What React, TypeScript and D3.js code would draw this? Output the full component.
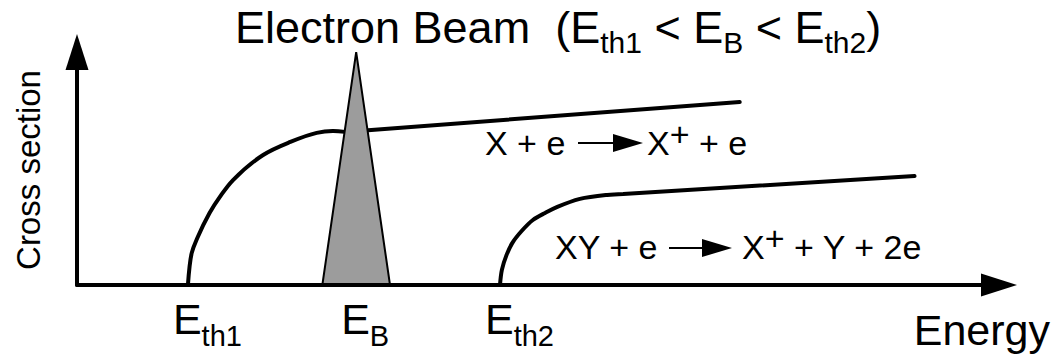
import React from "react";
import * as d3 from "d3";

// Energy axis and cross-section axis, both in arbitrary units (0..100)
const ENERGY_DOMAIN: [number, number] = [0, 100];
const SIGMA_DOMAIN: [number, number] = [0, 100];

// Direct ionization X + e -> X+ + e (threshold Eth1): rising onset, then a straight tail
const directOnset: [number, number][] = [
  [11.8, 0], [12.2, 12.7], [12.8, 18.7], [14.1, 28.7], [15.2, 35.1],
  [16.6, 41.8], [19.8, 51.8], [22.7, 57.0], [25.5, 60.6], [27.2, 61.4],
  [28.5, 61.0],
];
const directTail: [number, number] = [70.5, 72.9];

// Dissociative ionization XY + e -> X+ + Y + 2e (threshold Eth2)
const dissociativeOnset: [number, number][] = [
  [45.0, 0], [45.2, 6.0], [45.7, 12.0], [46.3, 16.7], [47.3, 21.5],
  [48.5, 25.9], [49.8, 28.7], [51.1, 31.1], [53.5, 34.3], [56.4, 35.9],
  [58.1, 36.3],
];
const dissociativeTail: [number, number] = [89.1, 43.4];

// Electron beam energy distribution: centre, half width at base, peak height
const BEAM_CENTER = 29.7;
const BEAM_HALF_WIDTH = 3.6;
const BEAM_PEAK = 92.8;

// Energy markers below the axis
const markers = [
  { main: "E", sub: "th1", value: 11.8 },
  { main: "E", sub: "B", value: 29.7 },
  { main: "E", sub: "th2", value: 45.0 },
];

const W = 1053;
const H = 358;
const FONT = "'Liberation Sans', Arial, Helvetica, sans-serif";

export default function App() {
  const x = d3.scaleLinear().domain(ENERGY_DOMAIN).range([77, 1017]);
  const y = d3.scaleLinear().domain(SIGMA_DOMAIN).range([285, 34]);

  const onsetLine = d3
    .line<[number, number]>()
    .x((d) => x(d[0]))
    .y((d) => y(d[1]))
    .curve(d3.curveCatmullRom.alpha(0.5));

  const curvePath = (onset: [number, number][], tail: [number, number]) =>
    (onsetLine(onset) ?? "") + `L${x(tail[0])},${y(tail[1])}`;

  const x0 = x(ENERGY_DOMAIN[0]);
  const xEnd = x(ENERGY_DOMAIN[1]);
  const y0 = y(SIGMA_DOMAIN[0]);
  const yEnd = y(SIGMA_DOMAIN[1]);

  const headLen = 36;
  const headHalf = 11.5;

  const beamPts: [number, number][] = [
    [BEAM_CENTER - BEAM_HALF_WIDTH, 0],
    [BEAM_CENTER, BEAM_PEAK],
    [BEAM_CENTER + BEAM_HALF_WIDTH, 0],
  ];
  const beamPath =
    "M" + beamPts.map((p) => `${x(p[0])},${y(p[1])}`).join("L") + "Z";

  // small reaction arrow: shaft + filled head
  const reactionArrow = (xs: number, xe: number, yy: number) => (
    <g>
      <line x1={xs} y1={yy} x2={xe - 28} y2={yy} stroke="#000" strokeWidth={2} />
      <path d={`M${xe - 30},${yy - 9}L${xe},${yy}L${xe - 30},${yy + 9}Z`} fill="#000" />
    </g>
  );

  return (
    <svg
      width={W}
      height={H}
      style={{ position: "absolute", left: 0, top: 0, background: "#fff" }}
      fontFamily={FONT}
    >
      <rect width={W} height={H} fill="#fff" />

      {/* title */}
      <text x={235} y={43} fontSize={45} style={{ whiteSpace: "pre" }}>
        {"Electron Beam  (E"}
        <tspan fontSize={30} dy={10}>th1</tspan>
        <tspan dy={-10}>{" < E"}</tspan>
        <tspan fontSize={30} dy={10}>B</tspan>
        <tspan dy={-10}>{" < E"}</tspan>
        <tspan fontSize={30} dy={10}>th2</tspan>
        <tspan dy={-10}>)</tspan>
      </text>

      {/* cross-section curves */}
      <path d={curvePath(directOnset, directTail)} fill="none" stroke="#000" strokeWidth={4} strokeLinecap="round" strokeLinejoin="round" />
      <path d={curvePath(dissociativeOnset, dissociativeTail)} fill="none" stroke="#000" strokeWidth={4} strokeLinecap="round" strokeLinejoin="round" />

      {/* beam distribution */}
      <path d={beamPath} fill="#9c9c9c" stroke="#000" strokeWidth={2} strokeLinejoin="miter" />

      {/* axes */}
      <line x1={x0} y1={y0} x2={xEnd - headLen + 2} y2={y0} stroke="#000" strokeWidth={4} strokeLinecap="round" />
      <path d={`M${xEnd - headLen},${y0 - headHalf}L${xEnd},${y0}L${xEnd - headLen},${y0 + headHalf}Z`} fill="#000" />
      <line x1={x0} y1={y0} x2={x0} y2={yEnd + headLen - 2} stroke="#000" strokeWidth={4} strokeLinecap="round" />
      <path d={`M${x0 - headHalf},${yEnd + headLen}L${x0},${yEnd}L${x0 + headHalf},${yEnd + headLen}Z`} fill="#000" />

      {/* axis titles */}
      <text x={1050} y={345} fontSize={43} textAnchor="end">Energy</text>
      <text
        transform="translate(40,170) rotate(-90)"
        fontSize={33}
        textAnchor="middle"
      >
        Cross section
      </text>

      {/* energy markers */}
      {markers.map((m) => (
        <text key={m.sub} x={x(m.value) - 15} y={334} fontSize={43}>
          {m.main}
          <tspan fontSize={29} dy={12}>{m.sub}</tspan>
        </text>
      ))}

      {/* reaction labels */}
      <text x={485} y={155} fontSize={34} style={{ whiteSpace: "pre" }}>X + e</text>
      {reactionArrow(578, 643, 143)}
      <text x={647} y={155} fontSize={34} style={{ whiteSpace: "pre" }}>
        X<tspan dy={-9}>+</tspan><tspan dy={9}>{" + e"}</tspan>
      </text>

      <text x={555} y={259} fontSize={34} style={{ whiteSpace: "pre" }}>XY + e</text>
      {reactionArrow(669, 732, 248)}
      <text x={742} y={259} fontSize={34} style={{ whiteSpace: "pre" }}>
        X<tspan dy={-9}>+</tspan><tspan dy={9}>{" + Y + 2e"}</tspan>
      </text>
    </svg>
  );
}
